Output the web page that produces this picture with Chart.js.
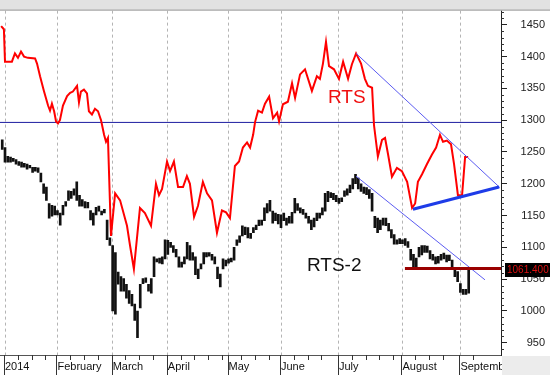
<!DOCTYPE html>
<html><head><meta charset="utf-8">
<script src="https://cdn.jsdelivr.net/npm/chart.js@4/dist/chart.umd.min.js"></script>
<style>html,body{margin:0;padding:0;background:#fff}#wrap{width:550px;height:375px}</style>
</head><body><div id="wrap"><canvas id="c" width="550" height="375"></canvas></div>
<script>
// ---- data (x = trading-day index from the first session of 2014) ----
const monthStarts = [0, 19, 39, 59, 81, 100, 121, 144, 165];
const monthLabels = ['2014', 'February', 'March', 'April', 'May', 'June', 'July', 'August', 'September'];
const yTicks = [950, 1000, 1050, 1100, 1150, 1200, 1250, 1300, 1350, 1400, 1450];

const rtsDays = [-1.4,-0.4,0,2.5,3.6,4.7,5.8,6.9,8.3,10.9,
 11.6,12.7,14.1,15.6,16.3,17.0,17.8,18.5,19.2,19.9,
 21.0,22.5,23.6,24.6,26.1,26.8,27.5,28.6,29.7,30.4,
 31.5,32.6,33.7,34.8,35.9,36.6,37.3,38.4,39.9,41.7,
 44.2,45.3,46.7,48.9,50.7,52.9,54.7,55.8,56.9,58.7,
 59.8,61.2,62.7,64.5,65.9,67.0,68.5,69.9,71.7,73.2,
 75.0,76.8,78.6,80.1,81.5,83.3,84.8,86.2,87.7,88.8,
 89.9,90.6,91.7,93.1,94.2,95.7,97.1,98.6,99.3,100.7,
 102.5,104.0,105.1,106.9,108.7,111.2,113.0,114.1,115.2,116.3,
 117.4,119.2,121.0,122.5,124.3,125.7,127.2,129.0,130.4,131.5,
 133.0,133.7,135.1,136.6,137.7,138.8,140.2,142.0,143.8,145.7,
 147.5,148.6,149.6,151.1,152.9,154.7,156.2,157.6,158.7,160.1,
 161.6,162.7,164.1,165.6,166.7,167.8];
const rtsValues = [1448,1443,1392,1392,1405,1398,1408,1400,1398,1397,
 1389,1369,1346,1323,1315,1326,1314,1298,1295,1300,
 1323,1338,1343,1345,1354,1328,1345,1348,1342,1314,
 1309,1318,1314,1300,1277,1266,1272,1118,1185,1174,
 1134,1103,1066,1162,1154,1134,1200,1182,1192,1235,
 1220,1235,1195,1195,1212,1200,1148,1165,1203,1185,
 1174,1123,1158,1155,1146,1228,1235,1257,1265,1257,
 1277,1297,1315,1312,1326,1337,1303,1312,1298,1325,
 1329,1358,1335,1372,1380,1346,1369,1365,1389,1423,
 1385,1380,1365,1392,1365,1388,1405,1389,1365,1354,
 1351,1292,1243,1269,1272,1246,1211,1225,1220,1203,
 1162,1169,1203,1215,1231,1246,1257,1277,1266,1268,
 1262,1231,1182,1182,1242,1242];

const rts2FirstDay = -1;
const rts2High = [1269,1257,1243,1242,1240,1238,1235,1234,1232,1231,1229,1226,1226,1225,1217,1200,1195,1169,1166,1165,
 1158,1154,1166,1172,1189,1188,1192,1203,1182,1175,1172,1171,1158,1154,1163,1165,1157,1160,1143,1115,
 1103,1092,1061,1054,1051,1042,1032,1026,1011,1000,1042,1051,1052,1042,1051,1085,1082,1083,1085,1112,
 1111,1108,1103,1097,1085,1077,1085,1108,1103,1092,1085,1066,1074,1092,1092,1092,1089,1085,1069,1058,
 1082,1080,1082,1083,1100,1112,1118,1134,1132,1131,1122,1131,1135,1143,1143,1162,1169,1174,1157,1154,
 1152,1151,1154,1146,1149,1155,1177,1169,1162,1160,1154,1149,1143,1146,1154,1154,1162,1185,1188,1186,
 1185,1182,1177,1178,1189,1192,1198,1208,1215,1209,1200,1195,1194,1191,1185,1149,1146,1143,1146,1146,
 1138,1128,1120,1112,1114,1112,1114,1109,1097,1089,1083,1100,1103,1103,1102,1095,1089,1085,1086,1089,
 1091,1088,1088,1080,1066,1062,1043,1034,1034,1066];
const rts2Low = [1254,1234,1234,1234,1235,1231,1229,1226,1226,1223,1225,1218,1220,1218,1203,1185,1174,1146,1149,1151,
 1151,1135,1151,1165,1174,1177,1182,1174,1165,1165,1162,1162,1143,1135,1151,1157,1151,1154,1112,1103,
 1000,995,1042,1031,1031,1020,1012,1008,985,958,1005,1043,1045,1031,1028,1054,1077,1075,1074,1082,
 1089,1100,1092,1085,1069,1069,1074,1082,1080,1080,1057,1051,1066,1074,1085,1086,1080,1074,1051,1038,
 1066,1071,1075,1077,1080,1103,1108,1118,1120,1115,1114,1123,1128,1134,1135,1142,1154,1157,1138,1142,
 1137,1131,1142,1135,1138,1138,1154,1158,1154,1152,1146,1138,1128,1132,1142,1146,1151,1157,1172,1178,
 1175,1172,1169,1172,1180,1182,1186,1192,1200,1192,1188,1185,1183,1177,1157,1131,1123,1128,1135,1134,
 1126,1115,1105,1105,1106,1106,1103,1100,1080,1069,1065,1085,1088,1092,1092,1082,1080,1074,1075,1080,
 1082,1077,1079,1069,1054,1046,1029,1026,1026,1028];

const levelValue = 1296.5;
const rtsResistDays = [127.2, 179.3], rtsResistValues = [1405, 1194];
const rtsSupportDays = [147.8, 179.0], rtsSupportValues = [1160, 1195];
const rts2ResistDays = [127.2, 173.9], rts2ResistValues = [1212, 1049];
const rts2LevelDays = [144.9, 179.7], rts2LevelValue = 1067;
const lastPrice = 1061.4;
const xMin = -1.81, xMax = 179.71, yMin = 930.8, yMax = 1472.3;

// ---- build ----
const pts = (xs, ys) => xs.map((d, i) => ({x: d, y: Array.isArray(ys) ? ys[i] : ys}));
const candles = rts2High.map((h, i) => ({x: rts2FirstDay + i, y: [rts2Low[i], h]}));
const FONT = "'Liberation Sans', Arial, sans-serif";
Chart.defaults.font.family = FONT;
Chart.defaults.font.size = 11;
Chart.defaults.color = '#222';

const decor = {
  id: 'decor',
  beforeDraw(chart) {
    const c = chart.ctx; c.save(); c.fillStyle = '#fff'; c.fillRect(0, 0, chart.width, chart.height); c.restore();
  },
  afterDraw(chart) {
    const {ctx, chartArea: a, scales: {x, y}} = chart;
    const W = chart.width, H = chart.height;
    const line = (x1, y1, x2, y2) => { ctx.beginPath(); ctx.moveTo(x1, y1); ctx.lineTo(x2, y2); ctx.stroke(); };
    ctx.save();
    ctx.fillStyle = '#e2e2e2'; ctx.fillRect(0, 0, W, a.top);
    ctx.strokeStyle = '#9a9a9a'; line(0, a.top - 0.5, W, a.top - 0.5);
    ctx.fillStyle = '#ececec'; ctx.fillRect(a.right + 1, a.bottom + 1, W - a.right - 1, H - a.bottom - 1);
    ctx.strokeStyle = '#333'; ctx.lineWidth = 1;
    monthStarts.forEach(m => { const px = Math.round(x.getPixelForValue(m)) - 0.5; line(px, a.bottom, px, H); });
    for (let i = 0; i < monthStarts.length; i++) {
      const end = i + 1 < monthStarts.length ? monthStarts[i + 1] : 172;
      for (let d = monthStarts[i] + 5; d < end - 1; d += 5) {
        const px = Math.round(x.getPixelForValue(d)) - 0.5; line(px, a.bottom, px, a.bottom + 5);
      }
    }
    for (let v = 940; v <= 1470; v += 10) {
      if (v % 50 === 0) continue;
      const py = Math.round(y.getPixelForValue(v)) + 0.5; line(a.right, py, a.right + 3, py);
    }
    // last price tag
    const py = y.getPixelForValue(lastPrice) - 2;
    ctx.fillStyle = '#000'; ctx.fillRect(a.right + 4, Math.round(py - 7), W - a.right - 4, 14);
    ctx.fillStyle = '#e01010'; ctx.font = '10px ' + FONT; ctx.textBaseline = 'middle'; ctx.textAlign = 'left';
    ctx.fillText('1061.400', a.right + 6, py);
    // series captions
    ctx.textBaseline = 'alphabetic';
    ctx.font = '19px ' + FONT;
    ctx.fillStyle = '#f01010'; ctx.fillText('RTS', x.getPixelForValue(117), y.getPixelForValue(1327));
    ctx.fillStyle = '#111'; ctx.fillText('RTS-2', x.getPixelForValue(109.4), y.getPixelForValue(1063));
    ctx.restore();
  }
};

new Chart(document.getElementById('c'), {
  type: 'bar',
  data: {datasets: [
    {type: 'line', data: pts(rts2LevelDays, rts2LevelValue), borderColor: '#9a0000', borderWidth: 3, pointRadius: 0},
    {type: 'line', data: pts(rts2ResistDays, rts2ResistValues), borderColor: '#5c5cf2', borderWidth: 1, pointRadius: 0},
    {type: 'line', data: pts(rtsSupportDays, rtsSupportValues), borderColor: '#1e3ce8', borderWidth: 3, pointRadius: 0},
    {type: 'line', data: pts(rtsResistDays, rtsResistValues), borderColor: '#5c5cf2', borderWidth: 1, pointRadius: 0},
    {type: 'line', data: pts(rtsDays, rtsValues), borderColor: '#ff0000', borderWidth: 2, pointRadius: 0, tension: 0},
    {type: 'line', data: [{x: xMin, y: levelValue}, {x: xMax, y: levelValue}], borderColor: '#1c1ca0', borderWidth: 1, pointRadius: 0},
    {type: 'bar', data: candles, backgroundColor: '#111', borderWidth: 0, barThickness: 2, grouped: false}
  ]},
  options: {
    responsive: false, animation: false,
    layout: {padding: {top: 3, right: 5, left: 0, bottom: 0}},
    plugins: {legend: {display: false}, tooltip: {enabled: false}},
    scales: {
      x: {
        type: 'linear', min: xMin, max: xMax, offset: false,
        afterBuildTicks: s => { s.ticks = monthStarts.map(v => ({value: v})); },
        afterFit: s => { s.height = 20; },
        ticks: {callback: (v) => monthLabels[monthStarts.indexOf(v)], align: 'start', maxRotation: 0, autoSkip: false, padding: 5, color: '#111'},
        grid: {color: '#b4b4b4', drawTicks: false, offset: false},
        border: {display: true, color: '#555', dash: [3, 3]}
      },
      y: {
        position: 'right', min: yMin, max: yMax,
        afterBuildTicks: s => { s.ticks = yTicks.map(v => ({value: v})); },
        afterFit: s => { s.width = 44; },
        ticks: {callback: v => String(v), crossAlign: 'far', padding: 4, color: '#222'},
        grid: {drawOnChartArea: false, tickLength: 6, color: '#222'},
        border: {display: true, color: '#222'}
      }
    }
  },
  plugins: [decor]
});
</script></body></html>
